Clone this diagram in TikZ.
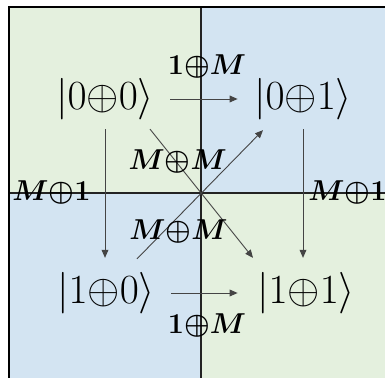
\documentclass[tikz,border=0pt]{standalone}
\usepackage{amsmath}
\usetikzlibrary{arrows.meta,calc}
\definecolor{quadgreen}{RGB}{228,240,222}
\definecolor{quadblue}{RGB}{211,228,242}
\definecolor{ink}{RGB}{35,35,35}

\begin{document}
\begin{tikzpicture}[
  x=0.5pt, y=-0.5pt,
  ket/.style={inner sep=0pt, font=\fontsize{19.5}{23}\selectfont},
  lbl/.style={inner sep=0pt, font=\fontsize{13.5}{16}\selectfont},
  arr/.style={-{Triangle[length=4pt,width=3.4pt]}, line width=0.45pt, draw=ink!85},
]
\useasboundingbox (0,0) rectangle (385,378);
\clip (0,0) rectangle (385,378);
% quadrants
\fill[quadgreen] (8,7) rectangle (201,193);
\fill[quadblue] (201,7) rectangle (400,193);
\fill[quadblue] (8,193) rectangle (201,400);
\fill[quadgreen] (201,193) rectangle (400,400);
\draw[line width=0.75pt, ink] (201,7) -- (201,400);
\draw[line width=0.75pt, ink] (8,193) -- (400,193);
\draw[line width=1.2pt] (8.7,400) |- (400,7.2);
% states
\node[ket] (n00) at (105,99) {$|0{\oplus}0\rangle$};
\node[ket] (n01) at (303,99) {$|0{\oplus}1\rangle$};
\node[ket] (n10) at (106,293) {$|1{\oplus}0\rangle$};
\node[ket] (n11) at (306,293) {$|1{\oplus}1\rangle$};
% transitions
\draw[arr, shorten <=8pt, shorten >=8pt] (n00.east) -- node[lbl, midway, above=10pt, xshift=1.5pt] {$\boldsymbol{1{\oplus}M}$} (n01.west);
\draw[arr, shorten <=8pt, shorten >=9.5pt] (n10.east) -- node[lbl, midway, below=10pt, xshift=0.5pt] {$\boldsymbol{1{\oplus}M}$} (n11.west);
\draw[arr, shorten <=4.5pt, shorten >=7pt] (n00.south) -- node[lbl, midway, left=7pt, yshift=1.5pt] {$\boldsymbol{M{\oplus}1}$} (n00.south |- n10.north);
\draw[arr, shorten <=4.5pt, shorten >=7pt] (n01.south) -- node[lbl, midway, right=2.5pt, yshift=1.5pt] {$\boldsymbol{M{\oplus}1}$} (n01.south |- n11.north);
\draw[arr] ($(n00.south)+(45,9)$) -- node[lbl, pos=0.25, xshift=1pt] {$\boldsymbol{M{\oplus}M}$} ($(n11.north)+(-53,-14)$);
\draw[arr] ($(n10.north)+(31,-13)$) -- node[lbl, pos=0.21, xshift=7.5pt] {$\boldsymbol{M{\oplus}M}$} ($(n01.south)+(-40,10)$);
\end{tikzpicture}
\end{document}
